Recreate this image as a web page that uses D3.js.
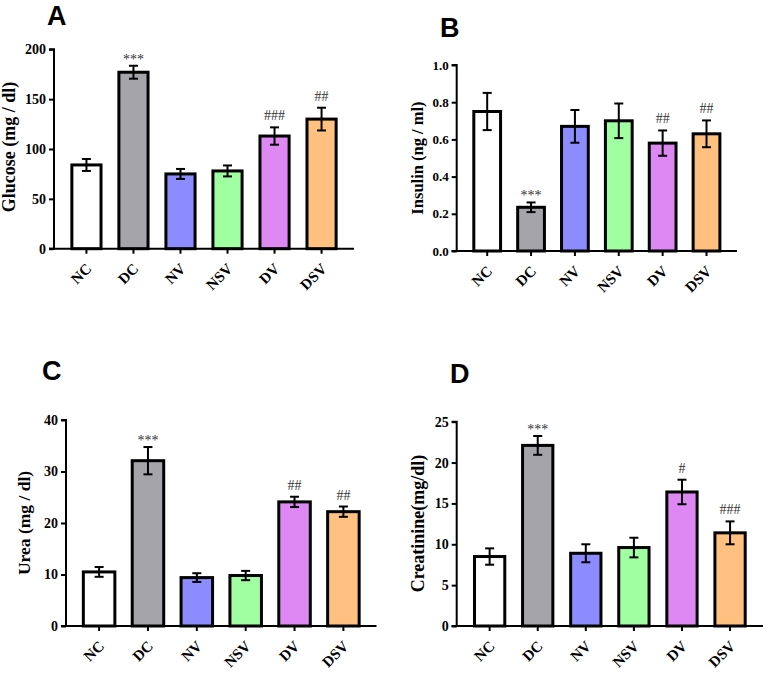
<!DOCTYPE html>
<html><head><meta charset="utf-8">
<script src="https://cdn.jsdelivr.net/npm/d3@7/dist/d3.min.js"></script>
<style>
html,body{margin:0;padding:0;background:#fff;}
svg{display:block;}
</style></head>
<body>
<svg id="chart" width="768" height="674"></svg>
<script>
// ---- data ----
const categories = ["NC", "DC", "NV", "NSV", "DV", "DSV"];
const barColors = ["#ffffff", "#a4a4aa", "#8c8cff", "#a0ffa0", "#dd88f3", "#ffc080"];

const glucoseMean = [84, 177, 75, 78, 113, 130];
const glucoseErr  = [6, 6.5, 5, 5.5, 8.7, 11.4];
const glucoseSig  = ["", "***", "", "", "###", "##"];
const glucoseTicks = [0, 50, 100, 150, 200];

const insulinMean = [0.75, 0.235, 0.67, 0.70, 0.58, 0.63];
const insulinErr  = [0.10, 0.026, 0.088, 0.093, 0.068, 0.072];
const insulinSig  = ["", "***", "", "", "##", "##"];
const insulinTicks = [0, 0.2, 0.4, 0.6, 0.8, 1.0];

const ureaMean = [10.5, 32.1, 9.4, 9.8, 24.1, 22.2];
const ureaErr  = [0.95, 2.65, 0.85, 0.9, 1.0, 1.0];
const ureaSig  = ["", "***", "", "", "##", "##"];
const ureaTicks = [0, 10, 20, 30, 40];

const creatMean = [8.5, 22.1, 8.9, 9.6, 16.4, 11.4];
const creatErr  = [1.0, 1.15, 1.1, 1.2, 1.5, 1.4];
const creatSig  = ["", "***", "", "", "#", "###"];
const creatTicks = [0, 5, 10, 15, 20, 25];

// ---- drawing ----
const svg = d3.select("#chart");
const serif = "Liberation Serif, Times New Roman, serif";

function drawPanel(p) {
  const g = svg.append("g");
  const x = d3.scaleBand().domain(categories).range([p.x0, p.x1]).padding(p.pad);
  const y = d3.scaleLinear().domain(p.domain).range([p.yb, p.yt]);
  const bw = x.bandwidth();

  // panel letter
  g.append("text").attr("x", p.lx).attr("y", p.ly)
    .attr("font-family", "Liberation Sans, Arial, sans-serif")
    .attr("font-weight", "bold").attr("font-size", 27).attr("fill", "#000")
    .text(p.letter);

  // bars
  g.selectAll("rect.bar").data(categories).enter().append("rect")
    .attr("x", d => x(d)).attr("width", bw)
    .attr("y", (d, i) => y(p.mean[i]))
    .attr("height", (d, i) => y(0) - y(p.mean[i]))
    .attr("fill", (d, i) => barColors[i])
    .attr("stroke", "#000").attr("stroke-width", 3);

  // error bars
  const eb = g.selectAll("g.eb").data(categories).enter().append("g")
    .attr("stroke", "#000").attr("stroke-width", 2);
  eb.append("line")
    .attr("x1", d => x(d) + bw / 2).attr("x2", d => x(d) + bw / 2)
    .attr("y1", (d, i) => y(p.mean[i] + p.err[i])).attr("y2", (d, i) => y(p.mean[i] - p.err[i]));
  eb.append("line")
    .attr("x1", d => x(d) + bw / 2 - 4.5).attr("x2", d => x(d) + bw / 2 + 4.5)
    .attr("y1", (d, i) => y(p.mean[i] + p.err[i])).attr("y2", (d, i) => y(p.mean[i] + p.err[i]));
  eb.append("line")
    .attr("x1", d => x(d) + bw / 2 - 4.5).attr("x2", d => x(d) + bw / 2 + 4.5)
    .attr("y1", (d, i) => y(p.mean[i] - p.err[i])).attr("y2", (d, i) => y(p.mean[i] - p.err[i]));

  // significance marks
  g.selectAll("text.sig").data(categories).enter().append("text")
    .attr("x", d => x(d) + bw / 2)
    .attr("y", (d, i) => y(p.mean[i] + p.err[i]) - (p.sig[i].startsWith("*") ? 2 : 7))
    .attr("text-anchor", "middle").attr("font-family", serif).attr("font-size", 14)
    .attr("fill", "#333").text((d, i) => p.sig[i]);

  // y axis
  const ya = d3.axisLeft(y).tickValues(p.ticks).tickSize(5).tickPadding(3)
    .tickFormat(p.fmt);
  const yg = g.append("g").attr("transform", `translate(${p.x0},0)`).call(ya);
  yg.select(".domain").attr("stroke-width", 2).attr("d", `M-5,${p.yb}H0V${p.yt}H-5`);
  yg.selectAll(".tick line").attr("stroke-width", 2);
  yg.selectAll(".tick text").attr("font-family", serif).attr("font-weight", "bold")
    .attr("font-size", p.tfs).attr("fill", "#000");

  // x axis
  const xa = d3.axisBottom(x).tickSize(5).tickSizeOuter(0).tickFormat("");
  const xg = g.append("g").attr("transform", `translate(0,${p.yb})`).call(xa);
  xg.select(".domain").attr("stroke-width", 2).attr("d", `M${p.x0 - 5},0H${p.x1}`);
  xg.selectAll(".tick line").attr("stroke-width", 2);

  // rotated category labels
  const lg = g.selectAll("g.xl").data(categories).enter().append("g")
    .attr("transform", d => `translate(${x(d) + bw / 2 + 6},${p.yb + 21}) rotate(-45)`);
  lg.append("text").attr("text-anchor", "end").attr("font-family", serif).attr("font-weight", "bold")
    .attr("font-size", 15).attr("fill", "#000").text(d => d);

  // y label
  g.append("text")
    .attr("transform", `translate(${p.tx},${p.ty}) rotate(-90)`)
    .attr("text-anchor", "middle").attr("font-family", serif).attr("font-weight", "bold")
    .attr("font-size", p.lfs).attr("fill", "#000").text(p.title);
}

drawPanel({letter: "A", lx: 47, ly: 25, title: "Glucose (mg / dl)", tx: 14.5, ty: 147, lfs: 18, tfs: 14,
  mean: glucoseMean, err: glucoseErr, sig: glucoseSig, ticks: glucoseTicks, domain: [0, 200],
  fmt: d3.format("d"), x0: 54, x1: 354, yt: 49.3, yb: 248.7, pad: 0.38});
drawPanel({letter: "B", lx: 440, ly: 37, title: "Insulin (ng / ml)", tx: 423, ty: 158, lfs: 16.5, tfs: 13,
  mean: insulinMean, err: insulinErr, sig: insulinSig, ticks: insulinTicks, domain: [0, 1],
  fmt: d3.format(".1f"), x0: 456.7, x1: 737, yt: 65, yb: 251, pad: 0.39});
drawPanel({letter: "C", lx: 42, ly: 380, title: "Urea (mg / dl)", tx: 30, ty: 523, lfs: 17.5, tfs: 14,
  mean: ureaMean, err: ureaErr, sig: ureaSig, ticks: ureaTicks, domain: [0, 40],
  fmt: d3.format("d"), x0: 66, x1: 376.5, yt: 420, yb: 626, pad: 0.355});
drawPanel({letter: "D", lx: 450, ly: 383, title: "Creatinine(mg/dl)", tx: 424, ty: 523.5, lfs: 18, tfs: 14,
  mean: creatMean, err: creatErr, sig: creatSig, ticks: creatTicks, domain: [0, 25],
  fmt: d3.format("d"), x0: 456.7, x1: 763, yt: 421.7, yb: 626, pad: 0.37});
</script>
</body></html>
